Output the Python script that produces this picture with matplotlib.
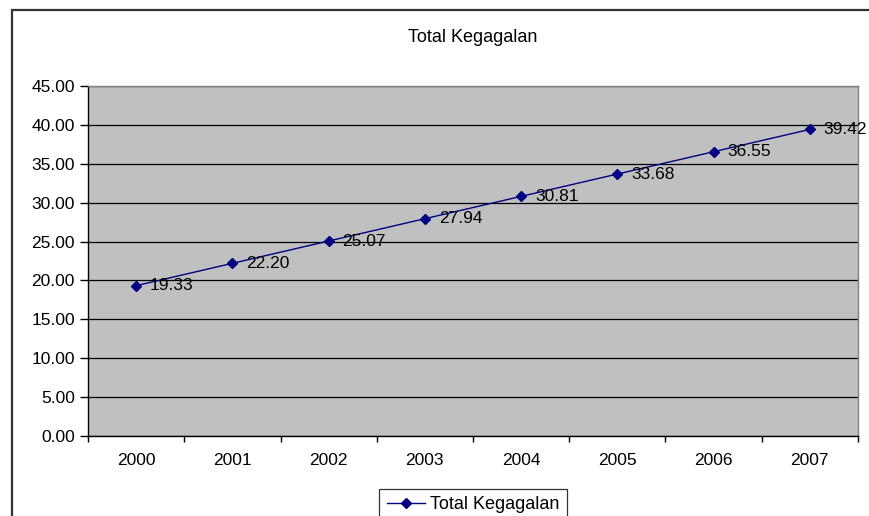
import matplotlib
matplotlib.use("Agg")
import matplotlib.pyplot as plt
from matplotlib.patches import Rectangle
from matplotlib.ticker import FixedLocator, FormatStrFormatter, NullFormatter

plt.rcParams["font.family"] = ["Liberation Sans", "DejaVu Sans"]

years = ["2000", "2001", "2002", "2003", "2004", "2005", "2006", "2007"]
total_kegagalan = [19.33, 22.20, 25.07, 27.94, 30.81, 33.68, 36.55, 39.42]
y_ticks = [0, 5, 10, 15, 20, 25, 30, 35, 40, 45]

W, H = 869, 516
fig = plt.figure(figsize=(W / 100, H / 100), dpi=100)

# outer chart frame (open on the right and bottom edges)
fig.patches.append(Rectangle((12 / W, -0.1), 1.2, 1.1 - 10 / H, transform=fig.transFigure,
                             fill=False, edgecolor="#333333", linewidth=1.6))

ax = fig.add_axes([88 / W, 1 - 436 / H, 770 / W, 350 / H])
ax.set_facecolor("#C0C0C0")

x = list(range(len(years)))
ax.plot(x, total_kegagalan, color="#000080", linewidth=1.0, marker="D",
        markersize=5, markerfacecolor="#000080", markeredgecolor="#000080",
        label="Total Kegagalan", zorder=3)
for xi, v in zip(x, total_kegagalan):
    ax.annotate(f"{v:.2f}", (xi, v), xytext=(10, 0), textcoords="offset points",
                va="center", ha="left", fontsize=12.5, zorder=4)

ax.set_xlim(-0.5, len(years) - 0.5)
ax.set_ylim(0, 45)

# category boundaries carry the tick marks, labels sit at category centres
ax.xaxis.set_major_locator(FixedLocator([i - 0.5 for i in range(len(years) + 1)]))
ax.xaxis.set_major_formatter(NullFormatter())
ax.xaxis.set_minor_locator(FixedLocator(x))
ax.set_xticklabels(years, minor=True)
ax.tick_params(axis="x", which="major", direction="out", length=4, width=1, color="black")
ax.tick_params(axis="x", which="minor", length=0, pad=12, labelsize=12.5)

ax.set_yticks(y_ticks)
ax.yaxis.set_major_formatter(FormatStrFormatter("%.2f"))
ax.tick_params(axis="y", direction="out", length=5.5, width=1, color="black",
               labelsize=12.5, pad=4)

ax.yaxis.grid(True, color="black", linewidth=0.9)
ax.set_axisbelow(True)

for side in ("left", "bottom"):
    ax.spines[side].set_color("black")
    ax.spines[side].set_linewidth(1.0)
for side in ("top", "right"):
    ax.spines[side].set_color("#808080")
    ax.spines[side].set_linewidth(1.0)

fig.text(473 / W, 1 - 38 / H, "Total Kegagalan", ha="center", va="center", fontsize=13)

leg = fig.legend(loc="upper center", bbox_to_anchor=(473 / W, 1 - 489 / H),
                 borderaxespad=0, fontsize=13, frameon=True, fancybox=False,
                 handlelength=2.1, borderpad=0.4, handletextpad=0.3)
leg.get_frame().set_edgecolor("black")
leg.get_frame().set_linewidth(0.9)

fig.savefig("out.png", dpi=100)
